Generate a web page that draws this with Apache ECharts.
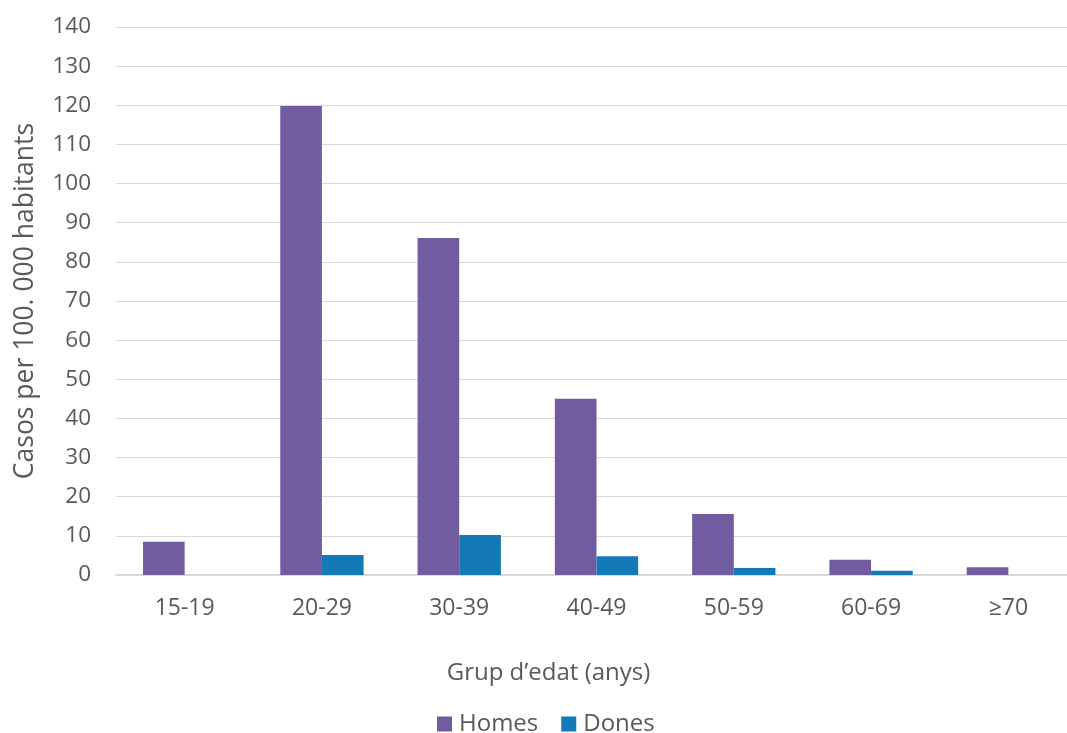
<!DOCTYPE html>
<html><head><meta charset="utf-8">
<script src="https://cdn.jsdelivr.net/npm/echarts@6/dist/echarts.min.js"></script>
<style>html,body{margin:0;padding:0;background:#fff}#c{width:1067px;height:733px}</style>
</head><body><div id="c"></div>
<script>
const categories = ['15-19','20-29','30-39','40-49','50-59','60-69','≥70'];
const homes = [8.5, 119.8, 86.1, 45.0, 15.6, 3.9, 2.0];
const dones = [0, 5.1, 10.2, 4.8, 1.8, 1.1, 0];
const yTicks = [0,10,20,30,40,50,60,70,80,90,100,110,120,130,140];

const font = '"Open Sans", sans-serif';
const grey = '#595959';
const chart = echarts.init(document.getElementById('c'));
chart.setOption({
  animation: false,
  textStyle: {fontFamily: font},
  grid: {left: 116, width: 961, top: 27, height: 548, outerBoundsMode: 'none', containLabel: false},
  legend: {
    top: 707, left: 432, itemWidth: 15, itemHeight: 15, itemGap: 23,
    icon: 'rect',
    textStyle: {fontFamily: font, fontSize: 24, color: grey, padding: [0, 0, 0, 2]},
    data: ['Homes','Dones']
  },
  xAxis: {
    type: 'category', data: categories,
    name: 'Grup d’edat (anys)', nameLocation: 'middle', nameGap: 86,
    nameTextStyle: {fontFamily: font, fontSize: 24, color: grey, padding: [0, 96, 0, 0]},
    axisLine: {lineStyle: {color: '#d9d9d9', width: 2}},
    axisTick: {show: false},
    axisLabel: {fontFamily: font, fontSize: 23, color: grey, margin: 22}
  },
  yAxis: {
    type: 'value', min: yTicks[0], max: yTicks[yTicks.length-1], interval: 10,
    name: 'Casos per 100. 000 habitants', nameLocation: 'middle', nameGap: 77,
    nameTextStyle: {fontFamily: font, fontSize: 26.5, color: grey},
    axisLine: {show: false}, axisTick: {show: false},
    axisLabel: {fontFamily: font, fontSize: 22.5, color: grey, margin: 25},
    splitLine: {lineStyle: {color: '#d9d9d9', width: 1}}
  },
  series: [
    {name: 'Homes', type: 'bar', data: homes, barGap: '0%', barCategoryGap: '39.3%',
     itemStyle: {color: '#725ca0'}},
    {name: 'Dones', type: 'bar', data: dones, barGap: '0%', barCategoryGap: '39.3%',
     itemStyle: {color: '#1479b7'}}
  ]
});
</script></body></html>
